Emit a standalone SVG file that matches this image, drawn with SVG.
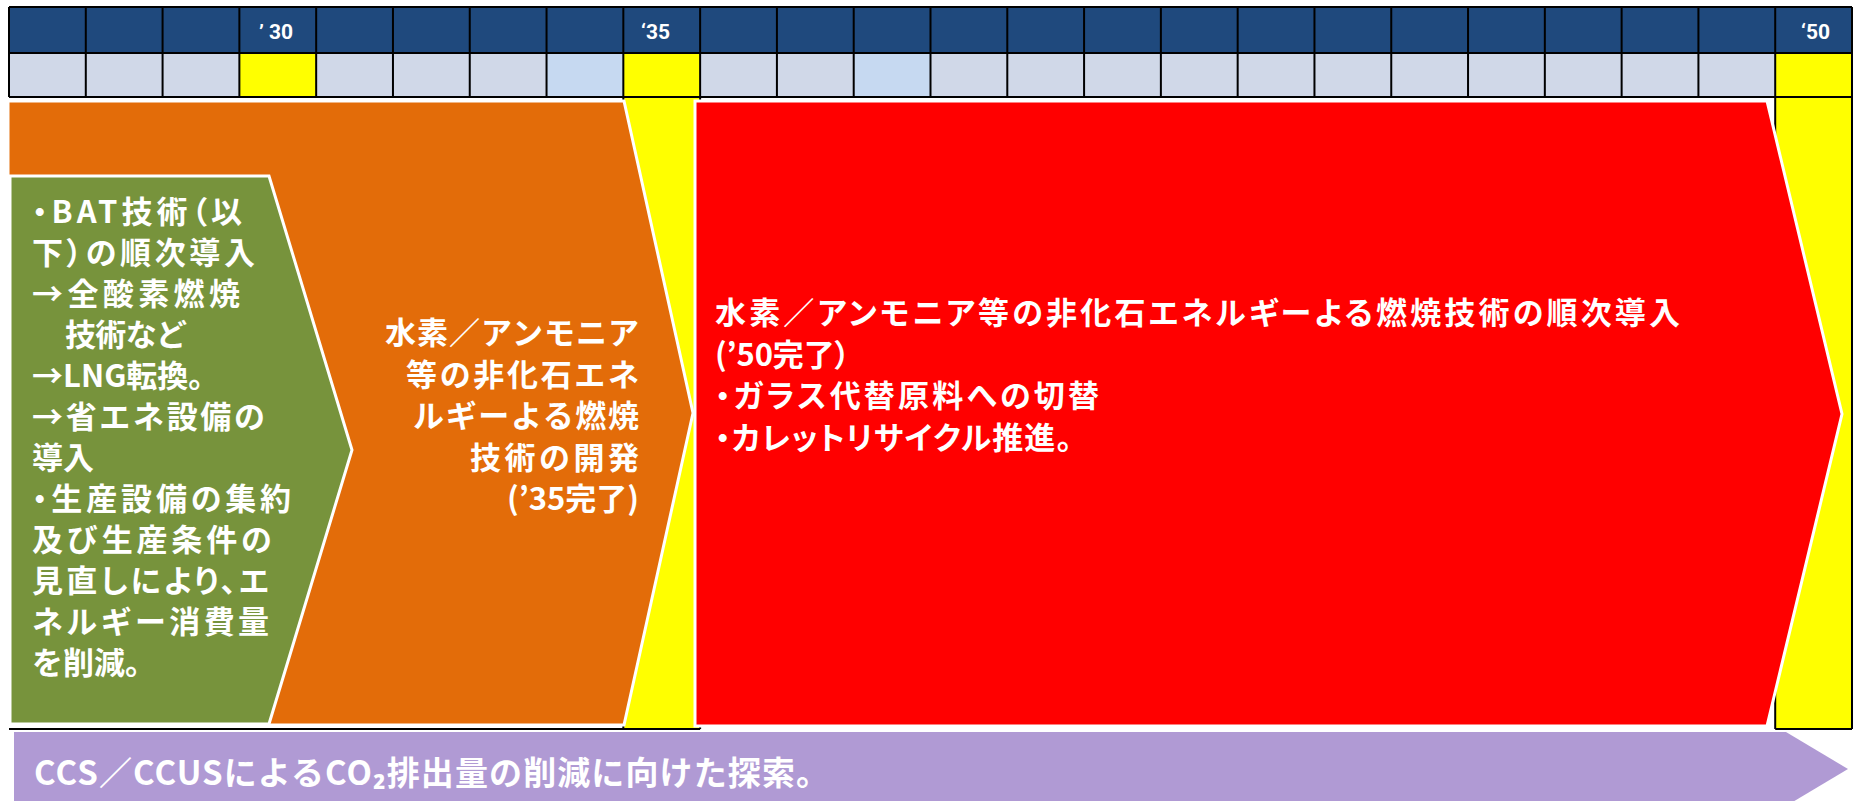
<svg xmlns="http://www.w3.org/2000/svg" width="1856" height="801" viewBox="0 0 1856 801">
<style>
.hdr{fill:#1F497D}
.c2{fill:#D0D8E8}
.lb{fill:#C6D9F1}
.yl{fill:#FFFF00}
.grid{stroke:#000;stroke-width:2;fill:none}
.shape{stroke:#FFFFFF;stroke-width:3;stroke-linejoin:miter}
.yr{font-family:Roboto,"Noto Sans","Liberation Sans",sans-serif;font-weight:700;font-size:21px;fill:#FFFFFF}
.jp{font-family:"Noto Sans CJK JP","Noto Sans",sans-serif;font-weight:700;fill:#FFFFFF}
.pa{font-feature-settings:"palt"}
.g{font-size:31px}
.o{font-size:31px;text-anchor:end}
.r{font-size:31px}
.p{font-size:33px}
</style>
<rect width="1856" height="801" fill="#FFFFFF"/>
<g id="timeline-table">
<rect class="hdr" x="9" y="7" width="1843" height="46"/>
<rect class="c2" x="9" y="53" width="1843" height="44"/>
<rect class="yl" x="239.38" y="53" width="76.79" height="44"/>
<rect class="lb" x="546.54" y="53" width="76.79" height="44"/>
<rect class="yl" x="623.33" y="53" width="76.8" height="676"/>
<rect class="lb" x="853.71" y="53" width="76.79" height="44"/>
<rect class="yl" x="1775.21" y="53" width="76.79" height="676"/>
<path class="grid" d="M9,7H1852M9,53H1852M9,97H1852M9,7V97M85.79,7V97M162.58,7V97M239.38,7V97M316.17,7V97M392.96,7V97M469.75,7V97M546.54,7V97M623.33,7V729M700.13,7V729M776.92,7V97M853.71,7V97M930.5,7V97M1007.29,7V97M1084.08,7V97M1160.88,7V97M1237.67,7V97M1314.46,7V97M1391.25,7V97M1468.04,7V97M1544.83,7V97M1621.63,7V97M1698.42,7V97M1775.21,7V729M1852,7V729M9,729H700.13M1775.21,729H1852"/>
<text class="yr" x="259" y="39">’ 30</text>
<text class="yr" x="641" y="39">‘35</text>
<text class="yr" x="1801" y="39">‘50</text>
</g>
<g id="connectors"></g>
<g id="bar-orange">
<polygon class="shape" fill="#E36C09" points="8,101 624,101 693,413 624,725 8,725"/>
<text class="jp o" x="639" y="344" textLength="254" lengthAdjust="spacing">水素／アンモニア</text>
<text class="jp o" x="639" y="385.5" textLength="233" lengthAdjust="spacing">等の非化石エネ</text>
<text class="jp o" x="639" y="427" textLength="226" lengthAdjust="spacing">ルギーよる燃焼</text>
<text class="jp o" x="639" y="468.5" textLength="169" lengthAdjust="spacing">技術の開発</text>
<text class="jp o pa" x="639" y="510" textLength="132" lengthAdjust="spacing">(’35完了)</text>
</g>
<g id="bar-green">
<polygon class="shape" fill="#77933C" points="10,176 269,176 352,450 269,724 10,724"/>
<text class="jp g pa" x="32" y="223" textLength="210" lengthAdjust="spacing">・BAT技術（以</text>
<text class="jp g pa" x="32" y="264" textLength="223" lengthAdjust="spacing">下）の順次導入</text>
<text class="jp g" x="32" y="305" textLength="208" lengthAdjust="spacing">→全酸素燃焼</text>
<text class="jp g" x="65" y="346" textLength="122" lengthAdjust="spacing">技術など</text>
<text class="jp g" x="32" y="387">→LNG転換。</text>
<text class="jp g" x="32" y="428" textLength="233" lengthAdjust="spacing">→省エネ設備の</text>
<text class="jp g" x="32" y="469">導入</text>
<text class="jp g pa" x="32" y="510" textLength="259" lengthAdjust="spacing">・生産設備の集約</text>
<text class="jp g" x="32" y="551" textLength="240" lengthAdjust="spacing">及び生産条件の</text>
<text class="jp g pa" x="32" y="592" textLength="237" lengthAdjust="spacing">見直しにより、エ</text>
<text class="jp g" x="32" y="633" textLength="237" lengthAdjust="spacing">ネルギー消費量</text>
<text class="jp g" x="32" y="674">を削減。</text>
</g>
<g id="bar-red">
<polygon class="shape" fill="#FF0000" points="695,101 1767,101 1842,414 1767,726 695,726"/>
<text class="jp r pa" x="715" y="324" textLength="965" lengthAdjust="spacing">水素／アンモニア等の非化石エネルギーよる燃焼技術の順次導入</text>
<text class="jp r pa" x="715" y="365.5" textLength="135" lengthAdjust="spacing">(’50完了）</text>
<text class="jp r pa" x="715" y="407" textLength="384" lengthAdjust="spacing">・ガラス代替原料への切替</text>
<text class="jp r pa" x="715" y="448.5" textLength="357" lengthAdjust="spacing">・カレットリサイクル推進。</text>
</g>
<g id="bar-purple">
<polygon fill="#B09AD4" points="14,732 1786,732 1848,769 1786,806 14,806"/>
<text class="jp p" x="34" y="785" textLength="795" lengthAdjust="spacing">CCS／CCUSによるCO₂排出量の削減に向けた探索。</text>
</g>
</svg>
